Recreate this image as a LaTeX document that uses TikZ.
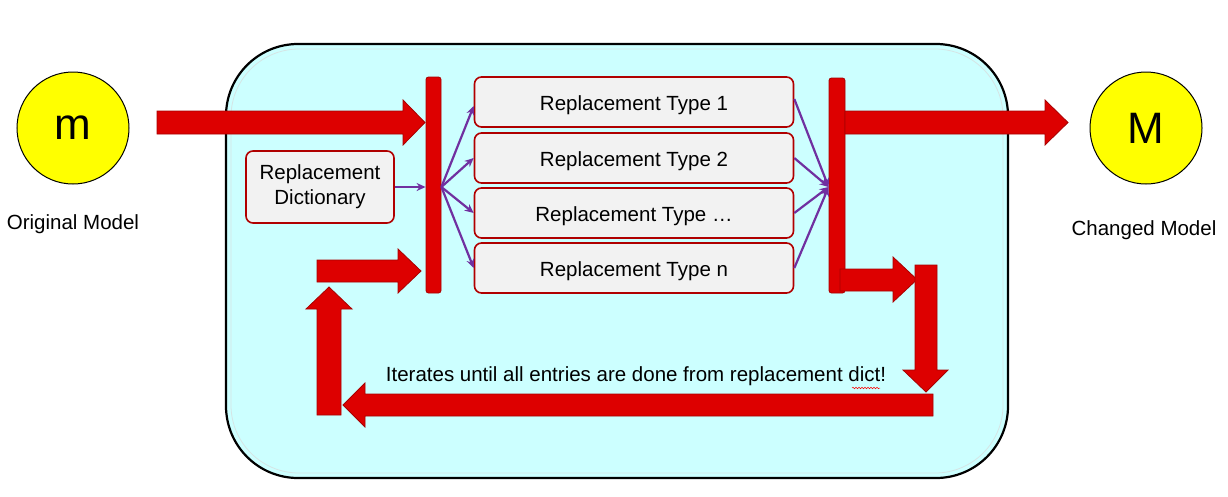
\documentclass[tikz,border=0pt]{standalone}
\usepackage{fontspec}
\setmainfont{Liberation Sans}
\usetikzlibrary{arrows.meta,decorations.pathmorphing}
\definecolor{cyanbg}{HTML}{CCFFFF}
\definecolor{redfill}{HTML}{DD0000}
\definecolor{redline}{HTML}{A80000}
\definecolor{boxline}{HTML}{B00000}
\definecolor{boxfill}{HTML}{F2F2F2}
\definecolor{purp}{HTML}{7030A0}
\definecolor{yel}{HTML}{FFFF00}
\tikzset{
  blockarrow/.style={fill=redfill,draw=redline,line width=0.8pt,line join=miter},
  bar/.style={rectangle,rounded corners=2.5pt,fill=redfill,draw=redline,line width=0.8pt,inner sep=0pt},
  typebox/.style={rectangle,rounded corners=7pt,fill=boxfill,draw=boxline,line width=1.6pt,minimum width=319pt,minimum height=50pt,font=\fontsize{20.5}{24}\selectfont},
  typetext/.style={text height=20pt,text depth=4pt},
  circ/.style={circle,fill=yel,draw=black,line width=1pt,minimum size=112pt,inner sep=0pt,font=\fontsize{44}{48}\selectfont},
  lbl/.style={font=\fontsize{20.5}{24}\selectfont,inner sep=0pt},
  parrow/.style={draw=purp,line width=2.2pt,-{Stealth[length=9pt,width=8pt]}}
}
\begin{document}
\begin{tikzpicture}[x=1pt,y=-1pt]
\useasboundingbox (0,0) rectangle (1228,496);
% background panel
\draw[fill=cyanbg,draw=black,line width=2.2pt,rounded corners=72pt] (226,44) rectangle (1008,478);
\draw[draw=white!60!cyanbg!80!gray,line width=0.8pt,rounded corners=68pt] (231,49) rectangle (1003,473);
% circles
\node[circ] (m) at (73,128) {m};
\node[circ] (M) at (1146,128) {M};
\node[lbl] (orig) at (73,224) {Original Model};
\node[lbl] (chg) at (1144,230) {Changed Model};
% bars
\node[bar,minimum width=15pt,minimum height=216pt] (barL) at (433.5,185) {};
\node[bar,minimum width=16pt,minimum height=215pt] (barR) at (837,185.5) {};
% dictionary
\node[typebox,minimum width=148pt,minimum height=72pt,align=center] (dict) at (320,187) {Replacement\\[1pt]Dictionary};
% type boxes
\node[typebox,typetext] (t1) at (634,102) {Replacement Type 1};
\node[typebox,typetext] (t2) at (634,158) {Replacement Type 2};
\node[typebox,typetext] (t3) at (634,213) {Replacement Type \ldots};
\node[typebox,typetext] (t4) at (634,268) {Replacement Type n};
% purple connectors
\coordinate (hubL) at (barL.east |- dict.east);
\coordinate (hubR) at (barR.west |- dict.east);
\draw[parrow] (dict.east) -- (dict.east -| barL.west);
\draw[parrow] (hubL) -- ([yshift=-4pt]t1.west);
\draw[parrow] (hubL) -- (t2.west);
\draw[parrow] (hubL) -- (t3.west);
\draw[parrow] (hubL) -- (t4.west);
\draw[parrow] ([yshift=3pt]t1.east) -- (hubR);
\draw[parrow] (t2.east) -- (hubR);
\draw[parrow] (t3.east) -- (hubR);
\draw[parrow] (t4.east) -- (hubR);
% block arrows
\draw[blockarrow] (157,111) -- (403,111) -- (403,100) -- (425,122.5) -- (403,145) -- (403,134) -- (157,134) -- cycle;
\draw[blockarrow] (845,111) -- (1045,111) -- (1045,100) -- (1068,122.5) -- (1045,145) -- (1045,134) -- (845,134) -- cycle;
\draw[blockarrow] (840,269) -- (893,269) -- (893,257) -- (917,279.5) -- (893,302) -- (893,291) -- (840,291) -- cycle;
\draw[blockarrow] (915,265) -- (937,265) -- (937,370) -- (948,370) -- (926,392) -- (903,370) -- (915,370) -- cycle;
\draw[blockarrow] (933,394) -- (933,416) -- (365,416) -- (365,427) -- (343,405) -- (365,383) -- (365,394) -- cycle;
\draw[blockarrow] (317,415) -- (317,309) -- (306,309) -- (329,287) -- (352,309) -- (341,309) -- (341,415) -- cycle;
\draw[blockarrow] (317,260) -- (398,260) -- (398,249) -- (421,271) -- (398,293) -- (398,282) -- (317,282) -- cycle;
% loop text
\node[lbl] (iter) at (636,376) {Iterates until all entries are done from replacement dict!};
\draw[red,line width=0.5pt,decorate,decoration={snake,amplitude=0.8pt,segment length=3pt}] (852,388) -- (880,388);
\end{tikzpicture}
\end{document}
